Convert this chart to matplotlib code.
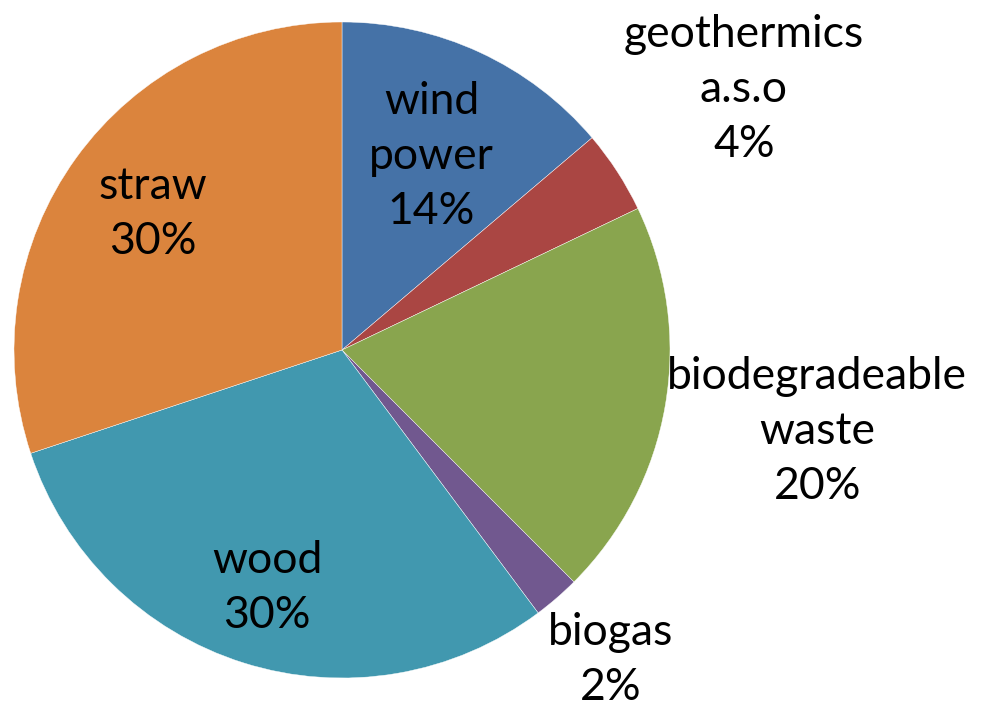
import numpy as np
import matplotlib.pyplot as plt

# Data (percent shares)
labels = ["wind\npower", "geothermics\na.s.o", "biodegradeable\nwaste", "biogas", "wood", "straw"]
shares = [13.8, 4.1, 19.6, 2.3, 30.1, 30.1]
colors = ["#4572A7", "#AA4643", "#89A54E", "#71588F", "#4198AF", "#DB843D"]
label_dist = [0.65, 1.46, 1.47, 1.25, 0.76, 0.71]

W, H = 984, 715
cx, cy, R = 342, 350, 328

fig = plt.figure(figsize=(W / 100, H / 100), dpi=100)
ax = fig.add_axes([(cx - R) / W, (H - cy - R) / H, 2 * R / W, 2 * R / H])
ax.axis("off")

wedges, _ = ax.pie(shares, colors=colors, startangle=90, counterclock=False,
                   radius=1, wedgeprops=dict(linewidth=0.3, edgecolor="white"))
ax.set_xlim(-1, 1)
ax.set_ylim(-1, 1)

for w, lab, s, d in zip(wedges, labels, shares, label_dist):
    ang = np.deg2rad((w.theta1 + w.theta2) / 2)
    x, y = d * np.cos(ang), d * np.sin(ang)
    ax.text(x, y, f"{lab}\n{s:.0f}%", ha="center", va="center", fontsize=32,
            family="Lato", linespacing=1.42, clip_on=False)

fig.savefig("out.png", dpi=100)
